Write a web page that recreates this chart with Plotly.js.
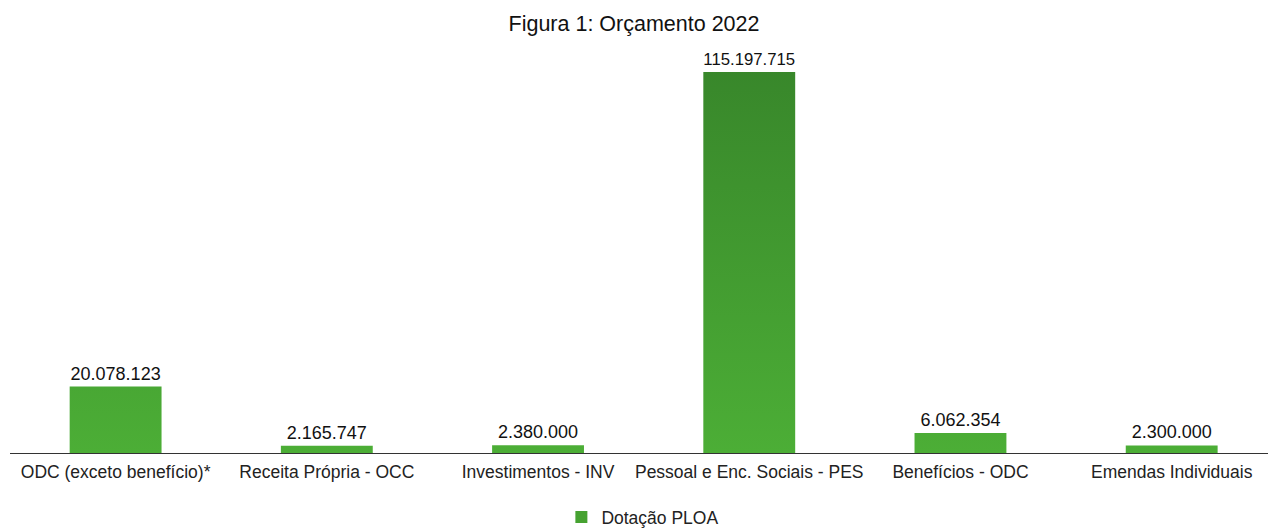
<!DOCTYPE html>
<html>
<head>
<meta charset="utf-8">
<script src="https://cdn.plot.ly/plotly-3.0.1.min.js"></script>
<style>
  html, body { margin: 0; padding: 0; background: #fff; }
  #chart { width: 1268px; height: 529px; }
</style>
</head>
<body>
<div id="chart"></div>
<script>
const categories = [
  "ODC (exceto benefício)*",
  "Receita Própria - OCC",
  "Investimentos - INV",
  "Pessoal e Enc. Sociais - PES",
  "Benefícios - ODC",
  "Emendas Individuais"
];
const values = [20078123, 2165747, 2380000, 115197715, 6062354, 2300000];
const seriesName = "Dotação PLOA";
const chartTitle = "Figura 1: Orçamento 2022";

function fmtBR(n) {
  return String(Math.round(n)).replace(/\B(?=(\d{3})+(?!\d))/g, ".");
}

const font = "Liberation Sans, Arial, Helvetica, sans-serif";

const trace = {
  type: "bar",
  x: categories,
  y: values,
  name: seriesName,
  text: values.map(fmtBR),
  textposition: "outside",
  cliponaxis: false,
  textfont: { family: font, size: 18, color: "#111" },
  marker: { color: "#46a231", line: { width: 0 } },
  showlegend: true,
  hoverinfo: "x+y"
};

const layout = {
  width: 1268,
  height: 529,
  margin: { l: 10, r: 0, t: 50, b: 76, autoexpand: false },
  paper_bgcolor: "#fff",
  plot_bgcolor: "#fff",
  font: { family: font, size: 17.5, color: "#222" },
  title: {
    text: chartTitle,
    x: 0.5, xanchor: "center",
    y: 1 - 23 / 529, yref: "container", yanchor: "middle",
    font: { family: font, size: 21.5, color: "#111" }
  },
  bargap: 0.565,
  xaxis: {
    type: "category",
    range: [-0.5, 5.456],
    showline: true,
    linecolor: "#333",
    linewidth: 1.2,
    ticks: "",
    ticklabelstandoff: 3,
    automargin: false,
    showgrid: false,
    zeroline: false,
    tickfont: { family: font, size: 17.5, color: "#222" },
    fixedrange: true
  },
  yaxis: {
    range: [0, 121850000],
    visible: false,
    showgrid: false,
    zeroline: false,
    fixedrange: true
  },
  showlegend: true,
  legend: {
    orientation: "h",
    x: 0.507, xanchor: "center", xref: "container",
    y: 1 - 517 / 529, yanchor: "middle", yref: "container",
    font: { family: font, size: 17.5, color: "#222" },
    itemwidth: 30,
    tracegroupgap: 0
  }
};

Plotly.newPlot("chart", [trace], layout, { displayModeBar: false, staticPlot: true }).then(function (gd) {
  const svg = gd.querySelector("svg.main-svg");
  const ns = "http://www.w3.org/2000/svg";
  let defs = svg.querySelector("defs");
  if (!defs) { defs = document.createElementNS(ns, "defs"); svg.insertBefore(defs, svg.firstChild); }
  const plotH = gd._fullLayout._size.h;
  const grad = document.createElementNS(ns, "linearGradient");
  grad.setAttribute("id", "barGrad");
  grad.setAttribute("gradientUnits", "userSpaceOnUse");
  grad.setAttribute("x1", "0"); grad.setAttribute("x2", "0");
  grad.setAttribute("y1", "0"); grad.setAttribute("y2", String(plotH));
  [["0", "#37852a"], ["1", "#4cae36"]].forEach(function (s) {
    const st = document.createElementNS(ns, "stop");
    st.setAttribute("offset", s[0]); st.setAttribute("stop-color", s[1]);
    grad.appendChild(st);
  });
  defs.appendChild(grad);
  gd.querySelectorAll(".trace.bars .point path").forEach(function (p) {
    p.style.fill = "url(#barGrad)";
  });
});
</script>
</body>
</html>
